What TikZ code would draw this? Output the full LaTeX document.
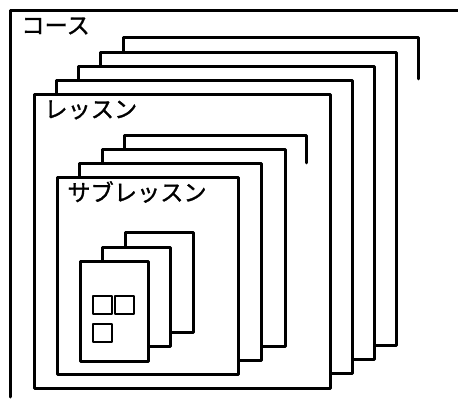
\documentclass[tikz,border=0pt]{standalone}
\usepackage{fontspec}
\newfontfamily\jpfont[FakeBold=1.2]{Noto Sans CJK JP}
\begin{document}
\begin{tikzpicture}[x=0.5pt, y=-0.5pt, line cap=round, line join=round]
\tikzset{
    sheet/.style={draw=black, fill=white, line width=1.5pt},
    stub/.style={draw=black, line width=1.5pt},
    cell/.style={draw=black, line width=1.4pt},
    tag/.style={font=\jpfont\fontsize{11.6}{13}\selectfont, anchor=west, inner sep=0pt}
}
\useasboundingbox (0,0) rectangle (458,399);
% course
\draw[stub] (458,11) -- (10,11) -- (10,397);
\node[tag] (course) at (21,26) {コース};
% lessons
\draw[stub] (123,52) -- (123,38) -- (418,38) -- (418,79);
\foreach \i in {3,2,1,0}
    \draw[sheet] (34+22.3*\i,95-14.3*\i) rectangle (330+22.3*\i,388-14.3*\i);
\node[tag] (lesson) at (44,110) {レッスン};
% sub-lessons
\draw[stub] (124,149) -- (124,136) -- (306,136) -- (306,163);
\foreach \i in {2,1,0}
    \draw[sheet] (57+22.5*\i,178-14*\i) rectangle (238+23.5*\i,374-14*\i);
\node[tag] (sublesson) at (67,192) {サブレッスン};
% pages
\foreach \i in {2,1,0}
    \draw[sheet] (80+22.5*\i,262-14.5*\i) rectangle (148+22.5*\i,361-14.5*\i);
\draw[cell] (93,296) rectangle (112,314);
\draw[cell] (115,296) rectangle (134,314);
\draw[cell] (93,324) rectangle (112,342);
\end{tikzpicture}
\end{document}
